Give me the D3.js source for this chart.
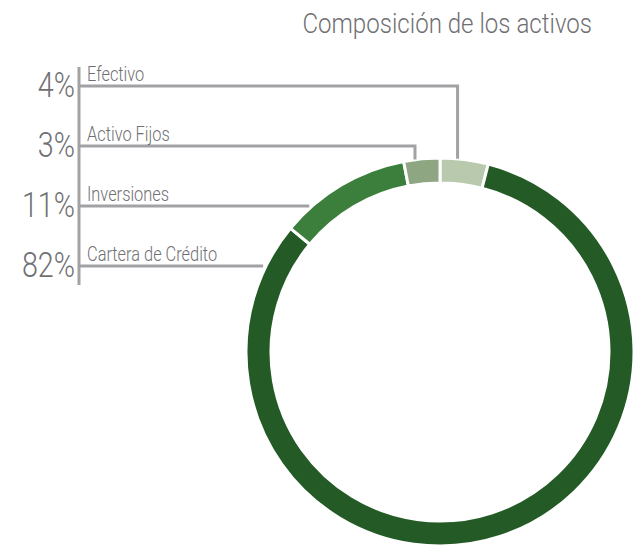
<!DOCTYPE html>
<html>
<head>
<meta charset="utf-8">
<script src="https://cdn.jsdelivr.net/npm/d3@7"></script>
<style>
  body { margin: 0; background: #fff; }
  svg text { font-family: Roboto, "DejaVu Sans", sans-serif; font-weight: 300; }
</style>
</head>
<body>
<svg id="chart" width="633" height="548"></svg>
<script>
// data
var categories = ["Efectivo", "Cartera de Crédito", "Inversiones", "Activo Fijos"];
var values = [4, 82, 11, 3];
var colors = ["#b9c9ad", "#235a25", "#3c7f3c", "#8ea782"];
// legend order, top to bottom
var legendOrder = ["Efectivo", "Activo Fijos", "Inversiones", "Cartera de Crédito"];
var title = "Composición de los activos";

var svg = d3.select("#chart"),
    cx = 440, cy = 352,
    rOuter = 194, rInner = 169,
    lineColor = "#a2a2a5",
    textColor = "#707073";

var pie = d3.pie().sort(null).value(function(d) { return d; });
var arcs = pie(values);
var arc = d3.arc().innerRadius(rInner).outerRadius(rOuter);

var g = svg.append("g").attr("transform", "translate(" + cx + "," + cy + ")");
g.selectAll("path")
  .data(arcs)
  .enter()
  .append("path")
  .attr("d", arc)
  .attr("fill", function(d, i) { return colors[i]; })
  .attr("stroke", "#fff")
  .attr("stroke-width", 3);

// condensed text helper
function label(x, y, size, sx, anchor, str) {
  svg.append("text")
    .attr("transform", "translate(" + x + "," + y + ") scale(" + sx + ",1)")
    .attr("text-anchor", anchor)
    .attr("font-size", size)
    .attr("fill", textColor)
    .text(str);
}

// title
label(592, 33, 28, 0.86, "end", title);

// legend rows
var rowY = d3.scalePoint().domain(legendOrder).range([86, 266]);
var axisX = 79;

svg.append("line")
  .attr("x1", axisX).attr("x2", axisX)
  .attr("y1", 67).attr("y2", 285)
  .attr("stroke", lineColor).attr("stroke-width", 3);

legendOrder.forEach(function(name) {
  var i = categories.indexOf(name),
      a = arcs[i],
      y = rowY(name),
      dy = cy - y,
      pts = null;
  if (dy < rOuter) {
    // angle where the row meets the left side of the ring
    var hitAng = 2 * Math.PI - Math.acos(dy / rOuter);
    if (hitAng >= a.startAngle && hitAng <= a.endAngle) {
      var hx = cx - Math.sqrt(rOuter * rOuter - dy * dy) - 3;
      pts = [[axisX, y], [hx, y]];
    }
  }
  if (!pts) {
    // slice sits below the row: across then down to the ring
    var ang = (a.startAngle + a.endAngle) / 2 - 0.035;
    var lx = cx + rOuter * Math.sin(ang);
    var ly = cy - rOuter * Math.cos(ang);
    pts = [[axisX, y], [lx, y], [lx, ly]];
  }
  svg.append("path")
    .attr("d", d3.line()(pts))
    .attr("fill", "none")
    .attr("stroke", lineColor)
    .attr("stroke-width", 3);

  label(axisX + 8, y - 5, 20, 0.82, "start", name);
  label(axisX - 4, y + 11, 35, 0.82, "end", values[i] + "%");
});
</script>
</body>
</html>
